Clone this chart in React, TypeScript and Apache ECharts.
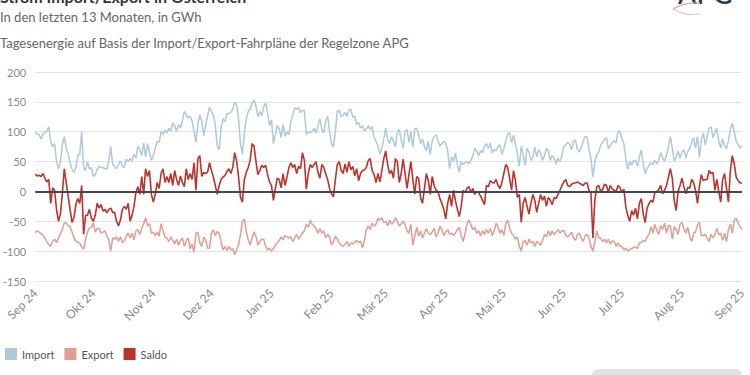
import React, { useEffect, useRef } from "react";
import * as echarts from "echarts";

const START_YEAR = 2024;
const START_MONTH = 8; // September (0-based)
const MONTHS_DE = ["Jan", "Feb", "Mär", "Apr", "Mai", "Jun", "Jul", "Aug", "Sep", "Okt", "Nov", "Dez"];
const Y_MIN = -150;
const Y_MAX = 200;
const Y_STEP = 50;

const IMPORT = [
  100, 96, 95, 88, 96, 99, 101, 108, 84, 75, 80, 50, 38, 49, 79, 92, 72, 64, 48, 37, 32, 40, 60, 62, 100, 40, 35, 50, 38, 40, 25, 28, 37, 42, 40, 40, 38, 38, 51, 75, 45,
  42, 38, 45, 51, 42, 40, 54, 50, 55, 51, 62, 56, 76, 70, 60, 81, 58, 80, 65, 52, 60, 73, 84, 82, 100, 95, 103, 98, 106, 101, 115, 109, 101, 112, 106, 118, 134, 128, 123, 126, 118, 100, 82, 113, 128, 118,
  93, 110, 127, 141, 134, 128, 112, 75, 70, 108, 122, 117, 130, 131, 132, 138, 149, 145, 122, 80, 62, 98, 122, 134, 138, 148, 153, 143, 125, 134, 127, 142, 148, 132, 110, 120, 80, 95, 110, 105, 90, 112, 92, 100, 95, 117,
  128, 140, 138, 140, 132, 136, 135, 95, 100, 98, 100, 106, 98, 110, 122, 104, 98, 118, 126, 100, 80, 74, 100, 134, 136, 125, 128, 132, 126, 136, 138, 124, 126, 112, 116, 106, 110, 102, 104, 110, 104, 108, 90, 84, 76, 62,
  72, 88, 106, 88, 80, 92, 84, 75, 98, 104, 86, 72, 100, 104, 82, 100, 74, 105, 106, 95, 80, 88, 75, 68, 84, 62, 84, 92, 95, 85, 76, 80, 84, 80, 68, 38, 58, 50, 64, 46, 32, 50, 45, 48, 50, 46,
  52, 60, 72, 68, 60, 68, 65, 76, 80, 72, 81, 64, 70, 68, 75, 78, 62, 72, 84, 96, 98, 82, 94, 80, 62, 42, 76, 62, 44, 72, 66, 52, 58, 74, 58, 70, 64, 52, 60, 72, 68, 52, 60, 56, 46, 56, 50,
  60, 76, 78, 82, 79, 70, 85, 86, 70, 66, 74, 84, 92, 91, 70, 55, 24, 50, 62, 66, 77, 83, 87, 90, 72, 76, 82, 85, 81, 101, 100, 88, 80, 55, 37, 50, 44, 52, 52, 42, 57, 70, 46, 30, 38, 44,
  48, 45, 52, 46, 54, 65, 56, 51, 60, 75, 92, 72, 51, 57, 68, 55, 66, 70, 56, 67, 72, 82, 90, 72, 92, 57, 86, 98, 78, 92, 106, 108, 90, 98, 106, 84, 73, 88, 76, 72, 85, 104, 114, 100, 84, 78, 73, 76,
];

const EXPORT = [
  -69, -66, -68, -71, -73, -78, -84, -89, -92, -83, -80, -86, -78, -71, -64, -53, -53, -57, -59, -68, -78, -83, -85, -87, -93, -97, -80, -68, -61, -60, -53, -68, -62, -62, -70, -68, -66, -75, -81, -100, -78,
  -80, -76, -84, -76, -86, -82, -75, -70, -78, -70, -81, -66, -64, -72, -62, -54, -44, -58, -54, -70, -68, -74, -68, -75, -54, -66, -76, -78, -84, -76, -82, -88, -80, -90, -82, -78, -92, -82, -78, -96, -88, -102, -70, -68, -86, -92,
  -77, -80, -95, -95, -70, -64, -74, -67, -70, -85, -98, -92, -99, -92, -98, -96, -106, -97, -90, -72, -50, -46, -67, -81, -90, -78, -68, -75, -90, -84, -80, -80, -92, -98, -95, -100, -96, -90, -86, -82, -76, -81, -74, -76, -78, -76,
  -84, -78, -72, -80, -75, -70, -66, -55, -60, -48, -55, -58, -62, -70, -62, -70, -66, -78, -72, -76, -90, -84, -75, -80, -86, -90, -92, -88, -84, -92, -86, -88, -85, -82, -86, -83, -95, -82, -64, -58, -64, -53, -58, -55, -45, -48,
  -44, -52, -50, -58, -48, -55, -52, -44, -50, -58, -54, -50, -56, -66, -70, -55, -90, -75, -60, -75, -66, -78, -70, -62, -70, -72, -68, -62, -76, -70, -58, -64, -74, -68, -64, -72, -70, -74, -70, -64, -60, -74, -84, -70, -54, -48,
  -56, -64, -60, -70, -66, -74, -66, -72, -64, -70, -62, -74, -66, -53, -60, -70, -64, -74, -54, -48, -62, -70, -74, -80, -76, -92, -100, -84, -82, -90, -80, -86, -84, -92, -84, -86, -90, -82, -72, -76, -66, -74, -66, -72, -68, -64, -70,
  -66, -66, -74, -76, -73, -68, -78, -82, -72, -70, -78, -84, -74, -72, -78, -92, -100, -84, -66, -78, -78, -84, -80, -86, -80, -88, -83, -84, -92, -86, -92, -92, -98, -95, -100, -97, -96, -94, -93, -96, -86, -86, -82, -84, -76, -72,
  -59, -70, -55, -65, -72, -57, -64, -53, -70, -57, -58, -80, -59, -64, -72, -55, -52, -62, -70, -60, -76, -84, -70, -68, -56, -52, -74, -74, -72, -78, -84, -72, -78, -72, -62, -72, -70, -82, -70, -84, -64, -55, -70, -48, -45, -53, -59, -64,
];

const SALDO = [
  29, 26, 27, 25, 30, 22, 16, 20, -20, 6, 2, -30, -50, -38, -4, 38, 15, -8, -30, -52, -44, -22, -12, -20, 10, -72, -40, -40, -30, -45, -50, -40, -20, -28, -22, -33, -30, -36, -30, -28, -35,
  -35, -50, -58, -48, -30, -25, -30, -20, -50, -40, -25, -2, 8, -5, 25, -5, 38, 25, 35, -5, -18, -5, 15, 5, 30, 38, 15, 25, 15, 30, 10, 35, 20, 10, 26, 15, 8, 38, 20, 30, 20, 48, 2, 55, 60, 25,
  32, 30, 32, 48, 35, 24, 10, -5, 10, 20, 24, 27, 33, 38, 30, 40, 65, 51, 25, -10, -18, 20, 32, 40, 52, 80, 76, 50, 28, 35, 44, 40, 44, 28, 16, 10, -15, 5, 22, 20, 6, 30, 10, 24, 40, 48,
  40, 45, 30, 42, 38, 65, 52, 4, 30, 45, 40, 45, 50, 32, 22, 45, 40, 30, 20, 5, -4, -9, 20, 45, 50, 35, 30, 46, 32, 50, 36, 42, 26, 38, 18, 30, 35, 36, 40, 52, 55, 35, 28, 15, 30, 16,
  35, 55, 68, 45, 30, 35, 22, 55, 50, 15, 30, 54, 30, 5, 28, 50, 20, -4, 25, 22, -10, -20, 5, 30, 18, -5, 25, 10, 2, 0, -12, -20, -30, -46, -20, -5, -25, 2, -15, -30, -42, -25, 2, -2, 5, 8,
  -2, 5, -5, 0, -2, -8, -15, -22, 10, 8, 18, 15, 14, 20, 10, 5, 15, 30, 45, 40, 22, 2, 35, 18, -10, -5, -52, -20, -10, -25, -38, -20, -5, -15, -35, -20, -5, -15, -8, -25, -10, -15, -22, -10, -12, -5, 2,
  10, 16, 20, 10, 8, 12, 14, 14, 16, 14, 12, 10, 14, 14, 2, -3, -78, -15, 8, 10, 0, 3, 12, 10, -1, 10, 4, 2, 0, 10, 6, -2, 4, -26, -40, -50, -32, -40, -28, -46, -20, -12, -38, -52, -28, -20,
  -15, -18, -2, 0, 3, 10, -4, 2, 10, 24, 38, 22, -15, -32, 0, 10, 22, 8, -4, 7, 5, 20, 15, 2, -20, 8, 28, 18, 20, 20, 35, 30, 32, 2, 20, 0, -18, 20, 30, 5, -18, 35, 60, 46, 24, 18, 14, 14,
];

const COLORS = { import: "#adc9db", export: "#e29c94", saldo: "#bb342b" };
const FONT = "Lato, 'Open Sans', sans-serif";

function buildDates(n: number): string[] {
  const out: string[] = [];
  for (let i = 0; i < n; i++) {
    const d = new Date(Date.UTC(START_YEAR, START_MONTH, 1 + i));
    const m = String(d.getUTCMonth() + 1).padStart(2, "0");
    const day = String(d.getUTCDate()).padStart(2, "0");
    out.push(`${d.getUTCFullYear()}-${m}-${day}`);
  }
  return out;
}

const DATES = buildDates(IMPORT.length);

export default function App() {
  const ref = useRef<HTMLDivElement>(null);
  useEffect(() => {
    if (!ref.current) return;
    const chart = echarts.init(ref.current, null, { renderer: "svg" });
    chart.setOption({
      animation: false,
      backgroundColor: "#ffffff",
      grid: { left: 31, right: 8, top: 72, height: 209, containLabel: false },
      legend: {
        left: 0,
        top: 343,
        icon: "rect",
        itemWidth: 12,
        itemHeight: 12,
        itemGap: 10,
        textStyle: { color: "#555", fontSize: 11, fontFamily: FONT },
        data: ["Import", "Export", "Saldo"],
      },
      xAxis: {
        type: "category",
        data: DATES,
        boundaryGap: false,
        axisLine: { show: false },
        axisTick: { show: false },
        axisLabel: {
          rotate: 45,
          margin: 10,
          color: "#888",
          fontSize: 12,
          fontFamily: FONT,
          hideOverlap: false,
          interval: (_i: number, v: string) => v.endsWith("-01"),
          formatter: (v: string) => {
            const y = v.slice(2, 4);
            const m = parseInt(v.slice(5, 7), 10);
            return `${MONTHS_DE[m - 1]} ${y}`;
          },
        },
        splitLine: { show: false },
      },
      yAxis: {
        type: "value",
        min: Y_MIN,
        max: Y_MAX,
        interval: Y_STEP,
        axisLine: { show: false },
        axisTick: { show: false },
        axisLabel: { color: "#888", fontSize: 11, fontFamily: FONT, margin: 9 },
        splitLine: { lineStyle: { color: "#e3e3e3", width: 1 } },
      },
      series: [
        {
          name: "Import",
          type: "line",
          data: IMPORT,
          showSymbol: false,
          color: COLORS.import,
          lineStyle: { width: 1.5, color: COLORS.import },
          z: 2,
        },
        {
          name: "Export",
          type: "line",
          data: EXPORT,
          showSymbol: false,
          color: COLORS.export,
          lineStyle: { width: 1.5, color: COLORS.export },
          z: 2,
        },
        {
          name: "Saldo",
          type: "line",
          data: SALDO,
          showSymbol: false,
          color: COLORS.saldo,
          lineStyle: { width: 1.6, color: COLORS.saldo },
          z: 3,
          markLine: {
            silent: true,
            symbol: "none",
            label: { show: false },
            lineStyle: { color: "#44445e", width: 2, type: "solid" },
            data: [{ yAxis: 0 }],
          },
        },
      ],
      graphic: [
        {
          type: "text",
          left: 0,
          top: -12,
          style: { text: "Strom Import/Export in Österreich", fill: "#333", font: `bold 16px ${FONT}` },
        },
        {
          type: "text",
          left: 0,
          top: 10,
          style: { text: "In den letzten 13 Monaten, in GWh", fill: "#666", font: `13px ${FONT}` },
        },
        {
          type: "text",
          left: 0,
          top: 36,
          style: {
            text: "Tagesenergie auf Basis der Import/Export-Fahrpläne der Regelzone APG",
            fill: "#666",
            font: `13px ${FONT}`,
          },
        },
        {
          type: "text",
          left: 678,
          top: -20,
          style: { text: "APG", fill: "#2e3d4c", font: `600 27px ${FONT}` },
        },
        {
          type: "bezierCurve",
          shape: { x1: 700, y1: 3, x2: 673, y2: 9, cpx1: 684, cpy1: 2 },
          style: { stroke: "#e3a5a5", lineWidth: 1.3, fill: "none" },
        },
        {
          type: "bezierCurve",
          shape: { x1: 673, y1: 9, x2: 700, y2: 14, cpx1: 684, cpy1: 16 },
          style: { stroke: "#ecc0c0", lineWidth: 1.1, fill: "none" },
        },
        {
          type: "rect",
          shape: { x: 592, y: 369, width: 150, height: 14, r: 6 },
          style: { fill: "#e2e2e2" },
        },
      ],
    });
    return () => chart.dispose();
  }, []);
  return (
    <div
      ref={ref}
      style={{ position: "fixed", left: 0, top: 0, width: 750, height: 375, background: "#fff" }}
    />
  );
}
